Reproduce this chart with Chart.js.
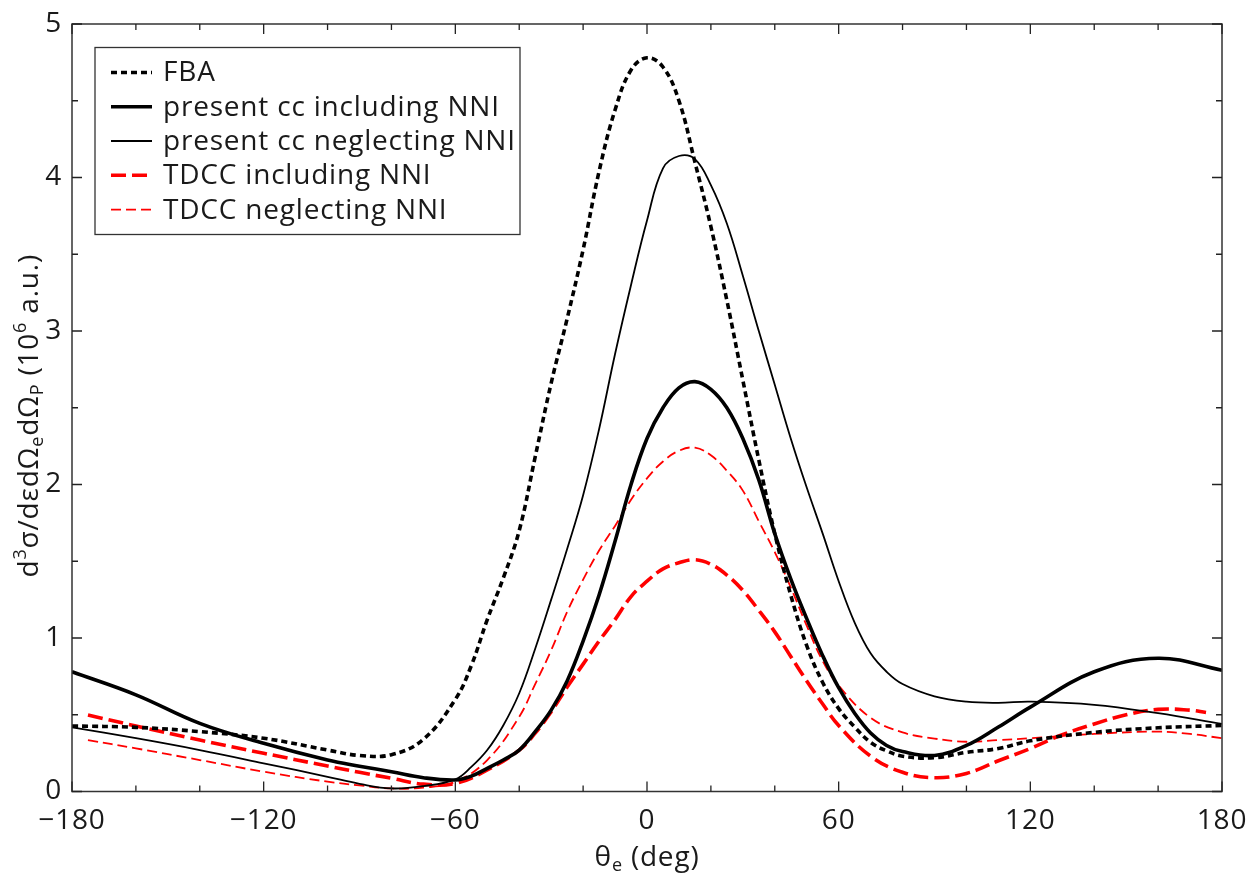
<!DOCTYPE html>
<html>
<head>
<meta charset="utf-8">
<script src="https://cdn.jsdelivr.net/npm/chart.js@4/dist/chart.umd.min.js"></script>
<style>
  html, body { margin: 0; padding: 0; background: #fff; }
  #wrap { width: 1254px; height: 873px; }
</style>
</head>
<body>
<div id="wrap"><canvas id="c" width="1254" height="873"></canvas></div>
<script>
// ---- data ----
const thetaGrid = [-180,-160,-140,-120,-100,-90,-80,-70,-60,-55,-50,-45,-40,-35,-30,-25,-20,-15,-10,-5,0,5,10,15,20,25,30,35,40,45,50,55,60,65,70,75,80,90,100,110,120,140,160,180];
const fbaValues = [0.427,0.418,0.39,0.347,0.27,0.235,0.24,0.34,0.6,0.82,1.12,1.39,1.7,2.18,2.66,3.08,3.53,4.04,4.44,4.7,4.78,4.72,4.5,4.1,3.68,3.2,2.68,2.16,1.68,1.28,0.95,0.71,0.54,0.42,0.32,0.265,0.23,0.22,0.255,0.28,0.33,0.385,0.415,0.43];
const ccInclValues = [0.78,0.63,0.444,0.314,0.205,0.165,0.129,0.09,0.075,0.1,0.151,0.205,0.27,0.39,0.53,0.72,0.98,1.28,1.63,2.0,2.3,2.5,2.63,2.67,2.62,2.5,2.3,2.03,1.68,1.385,1.126,0.885,0.676,0.51,0.381,0.3,0.26,0.235,0.30,0.42,0.55,0.78,0.868,0.79];
const ccNeglValues = [0.418,0.347,0.27,0.184,0.096,0.05,0.02,0.035,0.079,0.16,0.27,0.43,0.64,0.93,1.25,1.58,1.93,2.36,2.85,3.3,3.72,4.06,4.14,4.12,3.95,3.7,3.36,3.0,2.65,2.3,1.98,1.68,1.37,1.1,0.9,0.78,0.7,0.62,0.585,0.578,0.585,0.565,0.51,0.44];
const tdccInclTheta = [-175,-160,-140,-120,-100,-90,-80,-70,-60,-50,-40,-35,-30,-25,-20,-15,-10,-5,0,5,10,15,20,25,30,35,40,45,50,55,60,70,80,90,100,110,120,130,140,150,160,170,175];
const tdccInclValues = [0.498,0.427,0.335,0.249,0.166,0.125,0.086,0.048,0.053,0.14,0.27,0.38,0.52,0.68,0.83,0.98,1.12,1.27,1.37,1.45,1.49,1.51,1.48,1.41,1.31,1.18,1.04,0.88,0.72,0.57,0.43,0.23,0.125,0.09,0.118,0.2,0.28,0.37,0.44,0.5,0.535,0.53,0.515];
const tdccNeglTheta = [-175,-160,-140,-120,-100,-90,-80,-70,-60,-50,-40,-35,-30,-25,-20,-15,-10,-5,0,5,10,15,20,25,30,35,40,45,50,55,60,70,80,90,100,110,120,140,160,170,180];
const tdccNeglValues = [0.335,0.281,0.205,0.129,0.064,0.04,0.02,0.025,0.064,0.205,0.487,0.7,0.92,1.17,1.38,1.57,1.73,1.9,2.04,2.15,2.22,2.24,2.19,2.09,1.96,1.76,1.56,1.33,1.08,0.85,0.69,0.48,0.385,0.345,0.324,0.335,0.347,0.375,0.39,0.375,0.347];
const seriesLabels = ["FBA","present cc including NNI","present cc neglecting NNI","TDCC including NNI","TDCC neglecting NNI"];
const xTickValues = [-180,-120,-60,0,60,120,180];
const yTickValues = [0,1,2,3,4,5];

const FONT = '"Open Sans", "DejaVu Sans", sans-serif';
const INK = '#1a1a1a';
const SPACING = '0.8px';

function pts(xs, ys) { return xs.map((x, i) => ({ x: x, y: ys[i] })); }

const styles = [
  { color: '#000', width: 3.6, dash: [6, 4] },
  { color: '#000', width: 3.6, dash: [] },
  { color: '#000', width: 1.8, dash: [] },
  { color: '#ff0000', width: 3.6, dash: [15, 6] },
  { color: '#ff0000', width: 1.8, dash: [10, 5] }
];
const seriesData = [
  pts(thetaGrid, fbaValues),
  pts(thetaGrid, ccInclValues),
  pts(thetaGrid, ccNeglValues),
  pts(tdccInclTheta, tdccInclValues),
  pts(tdccNeglTheta, tdccNeglValues)
];

const datasets = seriesData.map((d, i) => ({
  label: seriesLabels[i],
  data: d,
  borderColor: styles[i].color,
  borderWidth: styles[i].width,
  borderDash: styles[i].dash,
  pointRadius: 0,
  fill: false,
  tension: 0.4
}));

function drawRich(ctx, segs, x, y, align) {
  const big = 28, small = 18;
  let total = 0;
  segs.forEach(s => {
    ctx.font = (s[1] === 'n' ? big : small) + 'px ' + FONT;
    total += ctx.measureText(s[0]).width;
  });
  let cx = align === 'center' ? x - total / 2 : x;
  ctx.textBaseline = 'alphabetic';
  ctx.textAlign = 'left';
  segs.forEach(s => {
    ctx.font = (s[1] === 'n' ? big : small) + 'px ' + FONT;
    const dy = s[1] === 'sub' ? 5 : (s[1] === 'sup' ? -12 : 0);
    ctx.fillText(s[0], cx, y + dy);
    cx += ctx.measureText(s[0]).width;
  });
}

function setSpacing(chart) {
  try { chart.ctx.letterSpacing = SPACING; } catch (e) {}
}

const decor = {
  id: 'decor',
  beforeLayout(chart) { setSpacing(chart); },
  beforeDraw(chart) { setSpacing(chart); },
  afterDraw(chart) {
    const ctx = chart.ctx;
    const a = chart.chartArea;
    const xs = chart.scales.x, ys = chart.scales.y;
    ctx.save();
    try { ctx.letterSpacing = SPACING; } catch (e) {}
    ctx.strokeStyle = '#333';
    ctx.lineWidth = 1.5;
    ctx.setLineDash([]);
    ctx.strokeRect(a.left, a.top, a.right - a.left, a.bottom - a.top);
    ctx.lineWidth = 1.3;
    ctx.strokeStyle = '#222';
    for (let v = -180; v <= 180; v += 20) {
      const px = xs.getPixelForValue(v);
      const len = (v % 60 === 0) ? 10 : 6;
      ctx.beginPath();
      ctx.moveTo(px, a.bottom); ctx.lineTo(px, a.bottom - len);
      ctx.moveTo(px, a.top); ctx.lineTo(px, a.top + len);
      ctx.stroke();
    }
    for (let v = 0; v <= 5.001; v += 0.5) {
      const py = ys.getPixelForValue(v);
      const len = (Math.abs(v - Math.round(v)) < 1e-6) ? 10 : 6;
      ctx.beginPath();
      ctx.moveTo(a.left, py); ctx.lineTo(a.left + len, py);
      ctx.moveTo(a.right, py); ctx.lineTo(a.right - len, py);
      ctx.stroke();
    }
    // legend
    const lx = 95, ly = 47.5, lw = 425, lh = 187;
    ctx.fillStyle = '#fff';
    ctx.fillRect(lx, ly, lw, lh);
    ctx.strokeStyle = '#333';
    ctx.lineWidth = 1.3;
    ctx.strokeRect(lx, ly, lw, lh);
    const rowY = [72.5, 106.8, 141, 175.3, 209.6];
    chart.data.datasets.forEach((ds, i) => {
      ctx.beginPath();
      ctx.strokeStyle = ds.borderColor;
      ctx.lineWidth = ds.borderWidth;
      ctx.setLineDash(ds.borderDash || []);
      ctx.moveTo(111, rowY[i]); ctx.lineTo(152, rowY[i]);
      ctx.stroke();
      ctx.setLineDash([]);
      ctx.fillStyle = INK;
      ctx.font = '28px ' + FONT;
      ctx.textAlign = 'left';
      ctx.textBaseline = 'middle';
      ctx.fillText(ds.label, 163, rowY[i] + 1);
    });
    ctx.fillStyle = INK;
    drawRich(ctx, [['\u03B8', 'n'], ['e', 'sub'], [' (deg)', 'n']], (a.left + a.right) / 2, 866, 'center');
    ctx.save();
    ctx.translate(38, (a.top + a.bottom) / 2 + 8);
    ctx.rotate(-Math.PI / 2);
    drawRich(ctx, [['d', 'n'], ['3', 'sup'], ['\u03C3/d\u03B5d\u03A9', 'n'], ['e', 'sub'], ['d\u03A9', 'n'], ['P', 'sub'], [' (10', 'n'], ['6', 'sup'], [' a.u.)', 'n']], 0, 0, 'center');
    ctx.restore();
    ctx.restore();
  }
};

const canvas = document.getElementById('c');

new Chart(canvas, {
  type: 'line',
  data: { datasets: datasets },
  plugins: [decor],
  options: {
    responsive: false,
    animation: false,
    devicePixelRatio: 1,
    layout: { padding: { top: 24, right: 32, left: 0, bottom: 0 } },
    plugins: { legend: { display: false }, tooltip: { enabled: false } },
    scales: {
      x: {
        type: 'linear', min: -180, max: 180,
        afterFit(s) { s.height = 81.5; s.paddingLeft = 0; s.paddingRight = 0; },
        afterBuildTicks(s) { s.ticks = xTickValues.map(v => ({ value: v })); },
        grid: { display: false, drawTicks: false },
        border: { display: false },
        ticks: {
          padding: 13,
          color: INK,
          font: { family: FONT, size: 28 },
          maxRotation: 0,
          callback: v => String(v).replace('-', '\u2212')
        }
      },
      y: {
        type: 'linear', min: 0, max: 5,
        afterFit(s) { s.width = 72; s.paddingTop = 0; s.paddingBottom = 0; },
        afterBuildTicks(s) { s.ticks = yTickValues.map(v => ({ value: v })); },
        grid: { display: false, drawTicks: false },
        border: { display: false },
        ticks: {
          padding: 10,
          color: INK,
          font: { family: FONT, size: 28 },
          callback: v => String(v)
        }
      }
    }
  }
});
</script>
</body>
</html>
